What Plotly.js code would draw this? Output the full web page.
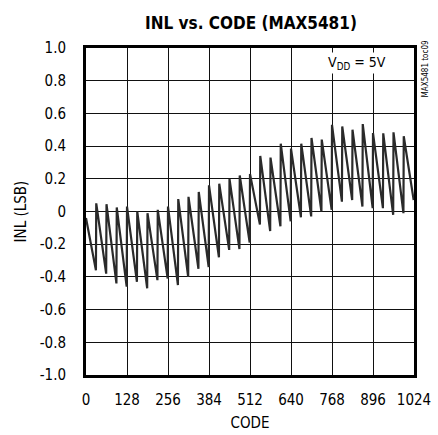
<!DOCTYPE html>
<html>
<head>
<meta charset="utf-8">
<script src="https://cdn.plot.ly/plotly-3.0.1.min.js"></script>
<style>
html,body{margin:0;padding:0;background:#fff;}
#chart{width:438px;height:435px;}
</style>
</head>
<body>
<div id="chart"></div>
<script>
// Sawtooth INL: each 32-code segment falls from a peak to a trough, then jumps up.
const codes = [0, 31, 32, 63, 64, 95, 96, 127, 128, 159, 160, 191, 192, 223, 224, 255, 256,
  287, 288, 319, 320, 351, 352, 383, 384, 415, 416, 447, 448, 479, 480, 511, 512,
  543, 544, 575, 576, 607, 608, 639, 640, 671, 672, 703, 704, 735, 736, 767, 768,
  799, 800, 831, 832, 863, 864, 895, 896, 927, 928, 959, 960, 991, 992, 1023];
const inl = [-0.04, -0.36, 0.05, -0.38, 0.045, -0.44, 0.025, -0.46, 0.03, -0.43, 0.0, -0.47, -0.01, -0.42, 0.01, -0.41, 0.03,
  -0.45, 0.076, -0.40, 0.09, -0.35, 0.12, -0.34, 0.16, -0.28, 0.17, -0.235, 0.2, -0.23, 0.22, -0.19, 0.23,
  -0.08, 0.34, -0.12, 0.33, -0.09, 0.415, -0.06, 0.385, -0.035, 0.415, -0.03, 0.45, 0.0, 0.44, 0.01, 0.53,
  0.06, 0.52, 0.07, 0.5, 0.03, 0.535, 0.02, 0.48, 0.02, 0.478, -0.02, 0.484, -0.01, 0.46, 0.07];

const xTickVals = [0, 128, 256, 384, 512, 640, 768, 896, 1024];
const yTickVals = [-1, -0.8, -0.6, -0.4, -0.2, 0, 0.2, 0.4, 0.6, 0.8, 1];
const yTickText = ['-1.0', '-0.8', '-0.6', '-0.4', '-0.2', '0', '0.2', '0.4', '0.6', '0.8', '1.0'];

const FONT = '"Liberation Sans Narrow", "DejaVu Sans Condensed", "Arial Narrow", sans-serif';

const trace = {
  x: codes, y: inl, type: 'scatter', mode: 'lines',
  line: {color: '#2a2a2a', width: 2.2},
  hoverinfo: 'skip', showlegend: false
};

const layout = {
  width: 438, height: 435,
  margin: {l: 86, r: 24, t: 48, b: 60},
  paper_bgcolor: '#fff', plot_bgcolor: '#fff',
  font: {family: FONT, size: 15, color: '#000'},
  title: {text: '<b>INL vs. CODE (MAX5481)</b>', font: {family: FONT, size: 17, color: '#000'},
          x: 0.573, xanchor: 'center', y: 0.947, yanchor: 'middle'},
  xaxis: {
    range: [0, 1024], tickvals: xTickVals, ticktext: xTickVals.map(String),
    showgrid: true, gridcolor: '#111', gridwidth: 1,
    showline: true, linecolor: '#000', linewidth: 3, mirror: true,
    ticks: '', ticklabelstandoff: 9, zeroline: false,
    tickfont: {family: FONT, size: 15, color: '#000'},
    title: {text: 'CODE', font: {family: FONT, size: 15, color: '#000'}, standoff: 10}
  },
  yaxis: {
    range: [-1, 1], tickvals: yTickVals, ticktext: yTickText,
    showgrid: true, gridcolor: '#111', gridwidth: 1,
    showline: true, linecolor: '#000', linewidth: 3, mirror: true,
    ticks: '', ticklabelstandoff: 14, zeroline: false,
    tickfont: {family: FONT, size: 15, color: '#000'},
    title: {text: 'INL (LSB)', font: {family: FONT, size: 15, color: '#000'}, standoff: 10}
  },
  annotations: [
    {text: 'V<sub>DD</sub> = 5V', xref: 'paper', yref: 'paper', x: 0.92, y: 0.955,
     xanchor: 'right', yanchor: 'middle', showarrow: false,
     bgcolor: '#fff', font: {family: FONT, size: 14, color: '#000'}},
    {text: 'MAX5481 toc09', xref: 'paper', yref: 'paper', x: 1.034, y: 0.935,
     xanchor: 'center', yanchor: 'middle', textangle: -90, showarrow: false,
     font: {family: FONT, size: 8, color: '#000'}}
  ]
};

Plotly.newPlot('chart', [trace], layout, {displayModeBar: false, staticPlot: true});
</script>
</body>
</html>
